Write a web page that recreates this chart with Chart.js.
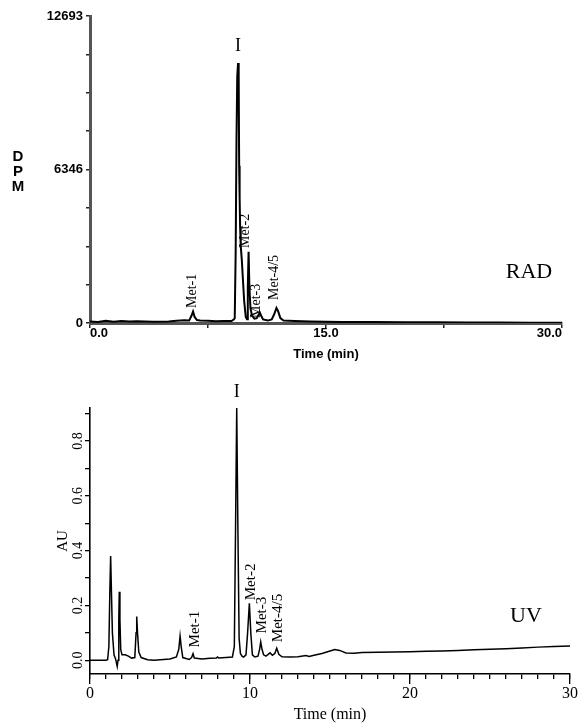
<!DOCTYPE html>
<html><head><meta charset="utf-8">
<script src="https://cdn.jsdelivr.net/npm/chart.js@4.4.1/dist/chart.umd.min.js"></script>
<style>
html,body{margin:0;padding:0;background:#fff;width:581px;height:724px;overflow:hidden}
#c1{position:absolute;left:0;top:0}
#c2{position:absolute;left:0;top:365px}
</style></head><body>
<canvas id="c1" width="581" height="365"></canvas>
<canvas id="c2" width="581" height="359"></canvas>
<script>
// ---------- RAD trace (time in min, DPM) ----------
const radTimes = [0,0.5,1,1.5,2,2.5,3,4,5,5.5,6,6.3,6.45,6.55,6.65,6.8,7,7.5,8,8.5,9,9.15,9.2,9.26,9.31,9.36,9.41,9.45,9.48,9.51,9.54,9.58,9.65,9.72,9.8,9.9,9.98,10.03,10.08,10.13,10.2,10.3,10.45,10.6,10.75,10.8,10.88,11.0,11.3,11.55,11.7,11.85,11.95,12.1,12.3,13,14,15,16,18,20,22,24,26,28,30];
const radDPM   = [60,40,90,50,80,60,70,50,60,90,110,100,300,480,250,120,100,90,70,80,80,150,200,3000,7500,10200,10750,10200,6500,5200,4000,3200,2600,1800,900,250,150,1500,2950,1500,600,300,180,200,380,420,300,150,100,150,350,620,500,200,100,80,60,50,40,40,30,30,20,20,10,10];
const radYTickValues = [0,6346.5,12693];
const radYTickLabels = ['0','6346','12693'];
const radXTickValues = [0,15,30];
const radXTickLabels = ['0.0','15.0','30.0'];
const radPeakNames  = ['Met-1','Met-2','Met-3','Met-4/5'];
const radPeakTimes  = [6.48,9.85,10.6,11.7];
const radPeakDPM    = [620,3100,207,950];

// ---------- UV trace (time in min, AU) ----------
const uvTimes = [0,0.5,1.0,1.1,1.18,1.24,1.29,1.34,1.4,1.5,1.6,1.7,1.75,1.8,1.83,1.87,1.92,2.0,2.2,2.4,2.6,2.8,2.88,2.92,2.97,3.05,3.2,3.6,4,5,5.4,5.55,5.63,5.7,5.8,6.2,6.35,6.44,6.52,7,7.5,7.9,7.97,8.05,8.5,8.9,9.02,9.1,9.17,9.24,9.32,9.4,9.5,9.6,9.75,9.85,9.96,10.05,10.15,10.3,10.5,10.6,10.67,10.75,10.85,11.0,11.1,11.25,11.4,11.55,11.67,11.8,12,12.5,13,13.5,13.7,14,14.5,15,15.3,15.6,16,16.5,17,18,19,20,21,22,23,24,25,26,27,28,29,30];
const uvAU    = [0,0,0,0.002,0.05,0.25,0.38,0.25,0.1,0.02,0.005,-0.022,0,0.15,0.25,0.15,0.04,0.02,0.02,0.015,0.008,0.01,0.1,0.16,0.1,0.03,0.01,0.002,0,0.005,0.012,0.04,0.088,0.05,0.01,0.003,0.01,0.024,0.008,0.005,0.007,0.008,0.012,0.008,0.01,0.012,0.05,0.5,0.92,0.5,0.08,0.025,0.015,0.012,0.02,0.1,0.208,0.1,0.02,0.012,0.015,0.04,0.067,0.04,0.02,0.015,0.02,0.027,0.018,0.025,0.044,0.022,0.013,0.012,0.013,0.017,0.014,0.018,0.025,0.034,0.039,0.036,0.027,0.026,0.028,0.029,0.030,0.031,0.033,0.034,0.036,0.038,0.040,0.042,0.045,0.048,0.050,0.052];
const uvYTickValues = [0,0.2,0.4,0.6,0.8];
const uvYTickLabels = ['0.0','0.2','0.4','0.6','0.8'];
const uvXTickValues = [0,10,20,30];
const uvXTickLabels = ['0','10','20','30'];
const uvPeakNames = ['Met-1','Met-2','Met-3','Met-4/5'];
const uvPeakTimes = [6.56,10.04,10.73,11.75];
const uvPeakAU    = [0.047,0.219,0.098,0.066];

const SERIF = "'Liberation Serif','Times New Roman',serif";
const SANS = "'Liberation Sans',Arial,sans-serif";

function pickLabel(values, labels, v, tol) {
  for (let i = 0; i < values.length; i++) if (Math.abs(values[i] - v) < tol) return labels[i];
  return '';
}

function annotPlugin(items) {
  return {
    id: 'annot',
    afterDraw(chart) {
      const ctx = chart.ctx, xs = chart.scales.x, ys = chart.scales.y;
      ctx.save();
      ctx.fillStyle = '#000';
      items.forEach(it => {
        const px = xs.getPixelForValue(it.t), py = ys.getPixelForValue(it.v);
        ctx.save();
        ctx.font = it.font;
        ctx.translate(px, py);
        ctx.textBaseline = 'middle';
        if (it.rot) { ctx.rotate(-Math.PI / 2); ctx.textAlign = 'left'; }
        else ctx.textAlign = 'center';
        ctx.fillText(it.text, 0, 0);
        ctx.restore();
      });
      if (chart.canvas.id === 'c1') {
        const yc = ys.getPixelForValue(6346.5);
        ctx.font = 'bold 15px ' + SANS;
        ctx.textAlign = 'center';
        ctx.textBaseline = 'middle';
        ['D','P','M'].forEach((ch, i) => ctx.fillText(ch, 18, yc - 13 + i * 15));
      }
      ctx.restore();
    }
  };
}

const radItems = radPeakNames.map((n, i) => ({text: n, t: radPeakTimes[i], v: radPeakDPM[i], rot: true, font: '14px ' + SERIF}));
radItems.push({text: 'I', t: 9.41, v: 11450, rot: false, font: '18px ' + SERIF});
radItems.push({text: 'RAD', t: 27.9, v: 2109, rot: false, font: '22px ' + SERIF});

const uvItems = uvPeakNames.map((n, i) => ({text: n, t: uvPeakTimes[i], v: uvPeakAU[i], rot: true, font: '15px ' + SERIF}));
uvItems.push({text: 'I', t: 9.17, v: 0.977, rot: false, font: '18px ' + SERIF});
uvItems.push({text: 'UV', t: 27.25, v: 0.16, rot: false, font: '22px ' + SERIF});

Chart.defaults.color = '#000';

new Chart(document.getElementById('c1'), {
  type: 'line',
  data: { datasets: [{
    data: radTimes.map((t, i) => ({x: t, y: radDPM[i]})),
    borderColor: '#000', borderWidth: 2, pointRadius: 0, tension: 0, fill: false
  }]},
  options: {
    responsive: false, animation: false, events: [],
    layout: { padding: {top: 16, right: 19, bottom: 0, left: 0} },
    plugins: { legend: {display: false}, tooltip: {enabled: false} },
    scales: {
      x: {
        type: 'linear', min: 0, max: 30,
        afterFit(s) { s.height = 42; },
        ticks: { stepSize: 7.5, autoSkip: false, align: 'inner', padding: -1,
          font: {family: SANS, size: 13, weight: 'bold', lineHeight: 1},
          callback: v => pickLabel(radXTickValues, radXTickLabels, v, 0.01) },
        grid: { drawOnChartArea: false, drawTicks: true, tickLength: 5, color: '#222', lineWidth: 1.5 },
        border: { display: true, color: '#555', width: 3 },
        title: { display: true, text: 'Time (min)', font: {family: SANS, size: 13, weight: 'bold'}, padding: {top: 0, bottom: 3} }
      },
      y: {
        type: 'linear', min: 0, max: 12693,
        afterFit(s) { s.width = 90; },
        ticks: { stepSize: 1586.625, autoSkip: false, padding: 3,
          font: {family: SANS, size: 13, weight: 'bold'},
          callback: v => pickLabel(radYTickValues, radYTickLabels, v, 1) },
        grid: { drawOnChartArea: false, drawTicks: true, tickLength: 4, color: '#222', lineWidth: 1.5 },
        border: { display: true, color: '#555', width: 3 }
      }
    }
  },
  plugins: [annotPlugin(radItems)]
});

new Chart(document.getElementById('c2'), {
  type: 'line',
  data: { datasets: [{
    data: uvTimes.map((t, i) => ({x: t, y: uvAU[i]})),
    borderColor: '#000', borderWidth: 1.5, pointRadius: 0, tension: 0, fill: false
  }]},
  options: {
    responsive: false, animation: false, events: [],
    layout: { padding: {top: 43, right: 11, bottom: 0, left: 0} },
    plugins: { legend: {display: false}, tooltip: {enabled: false} },
    scales: {
      x: {
        type: 'linear', min: 0, max: 30, position: 'bottom', weight: 0,
        afterFit(s) { s.height = 0; },
        ticks: { display: false, stepSize: 1, autoSkip: false },
        grid: { drawOnChartArea: false, drawTicks: true, tickLength: 5, color: '#000', lineWidth: 1.3 },
        border: { display: true, color: '#000', width: 1.6 }
      },
      x2: {
        type: 'linear', min: 0, max: 30, position: 'bottom', weight: 1,
        afterFit(s) { s.height = 50; },
        ticks: { stepSize: 10, autoSkip: false, padding: 0,
          font: {family: SERIF, size: 16},
          callback: v => pickLabel(uvXTickValues, uvXTickLabels, v, 0.01) },
        grid: { drawOnChartArea: false, drawTicks: true, tickLength: 10, color: '#000', lineWidth: 1.3 },
        border: { display: false },
        title: { display: true, text: 'Time (min)', font: {family: SERIF, size: 16}, padding: {top: 0, bottom: 0} }
      },
      y: {
        type: 'linear', min: -0.05, max: 0.92, bounds: 'ticks',
        afterFit(s) { s.width = 90; },
        ticks: { stepSize: 0.1, includeBounds: false, autoSkip: false,
          minRotation: 90, maxRotation: 90, crossAlign: 'center', padding: -2,
          font: {family: SERIF, size: 14},
          callback: v => pickLabel(uvYTickValues, uvYTickLabels, v, 0.001) },
        grid: { drawOnChartArea: false, drawTicks: true, tickLength: 5, color: '#000', lineWidth: 1.3 },
        border: { display: true, color: '#000', width: 1.6 },
        title: { display: true, text: 'AU', font: {family: SERIF, size: 15}, padding: {top: 54, bottom: 0} }
      }
    }
  },
  plugins: [annotPlugin(uvItems)]
});
</script>
</body></html>
